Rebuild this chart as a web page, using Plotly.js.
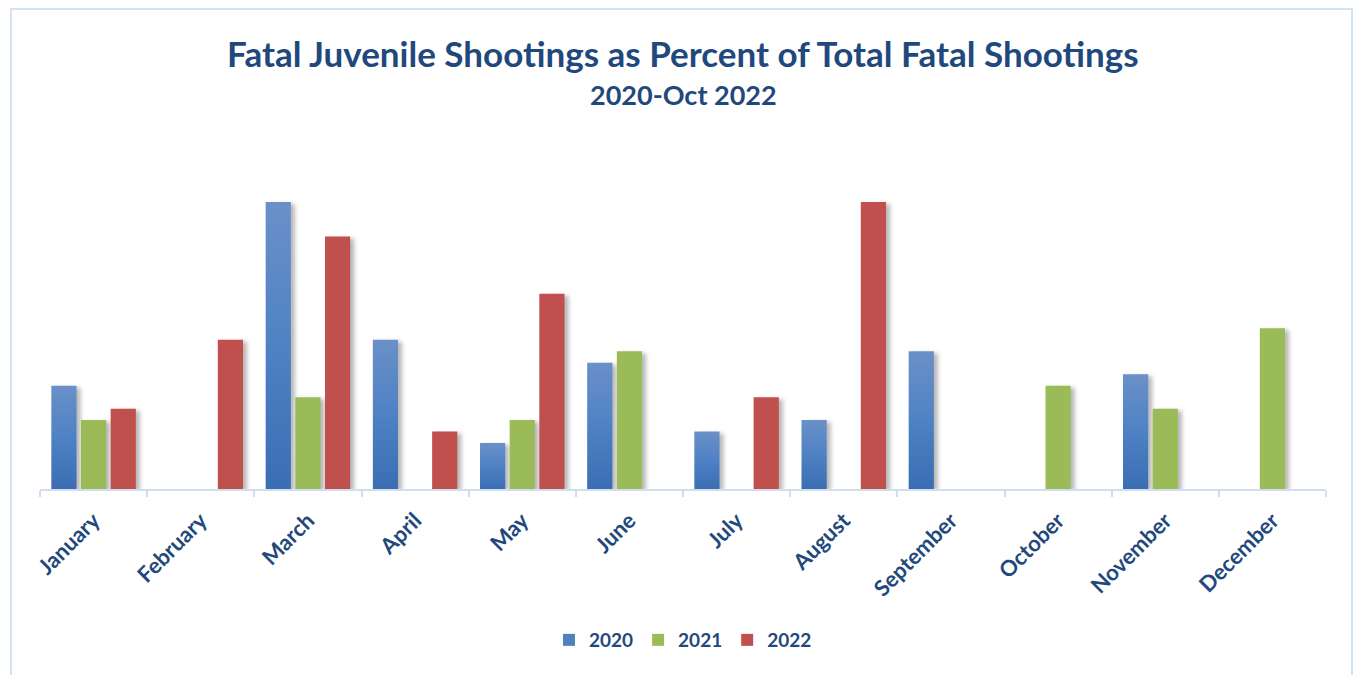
<!DOCTYPE html>
<html>
<head>
<meta charset="utf-8">
<script src="https://cdn.plot.ly/plotly-3.0.1.min.js"></script>
<style>
html,body{margin:0;padding:0;background:#fff;}
#wrap{position:relative;width:1358px;height:675px;}
#chart{position:absolute;left:0;top:0;width:1358px;height:675px;}
#frame{position:absolute;left:10px;top:8px;width:1343px;height:700px;border:2px solid #d5e2f2;box-sizing:border-box;pointer-events:none;}
</style>
</head>
<body>
<div id="wrap"><div id="chart"></div><div id="frame"></div></div>
<script>
const months = ["January","February","March","April","May","June","July","August","September","October","November","December"];
const y2020 = [9, null, 25, 13, 4, 11, 5, 6, 12, null, 10, null];
const y2021 = [6, null, 8, null, 6, 12, null, null, null, 9, 7, 14];
const y2022 = [7, 13, 22, 5, 17, null, 8, 25, null, null, null, null];
const seriesNames = ["2020","2021","2022"];

const colors = ["#4f81bd","#9bbb59","#c0504d"];
const textColor = "#1f497d";
const font = "Lato, 'Open Sans', sans-serif";

const data = [y2020, y2021, y2022].map((vals, i) => ({
  type: "bar",
  name: seriesNames[i],
  x: months,
  y: vals,
  marker: {color: colors[i], line: {width: 0}},
  hoverinfo: "x+y+name"
}));

const plotTop = 130, plotBottom = 489;
const ph = plotBottom - plotTop;
const yPaper = px => (plotBottom - px) / ph;

const layout = {
  width: 1358, height: 675,
  paper_bgcolor: "rgba(0,0,0,0)",
  plot_bgcolor: "rgba(0,0,0,0)",
  margin: {l: 40, r: 32, t: plotTop, b: 675 - plotBottom},
  barmode: "group",
  bargap: 0.17,
  bargroupgap: 0.15,
  showlegend: true,
  legend: {
    orientation: "h", x: 0.5, xanchor: "center",
    y: yPaper(640), yanchor: "middle",
    font: {family: font, size: 19, color: textColor, weight: "bold"},
    traceorder: "normal"
  },
  xaxis: {
    type: "category",
    tickson: "boundaries",
    ticks: "outside", ticklen: 6, tickcolor: "#d0def0", tickwidth: 2,
    showline: true, linecolor: "#d0def0", linewidth: 2,
    showgrid: false, zeroline: false,
    tickangle: -45,
    ticklabelstandoff: 8,
    tickfont: {family: font, size: 22, color: textColor, weight: "bold"}
  },
  yaxis: {
    range: [0, 31.27],
    visible: false, showgrid: false, zeroline: false
  },
  annotations: [
    {text: "Fatal Juvenile Shootings as Percent of Total Fatal Shootings", xref: "paper", yref: "paper",
     x: 0.5, y: yPaper(53), xanchor: "center", yanchor: "middle", showarrow: false,
     font: {family: font, size: 35, color: textColor, weight: "bold"}},
    {text: "2020-Oct 2022", xref: "paper", yref: "paper",
     x: 0.5, y: yPaper(95), xanchor: "center", yanchor: "middle", showarrow: false,
     font: {family: font, size: 27, color: textColor, weight: "bold"}}
  ]
};

Plotly.newPlot("chart", data, layout, {displayModeBar: false}).then(gd => {
  const svg = gd.querySelector("svg.main-svg");
  const ns = "http://www.w3.org/2000/svg";
  let defs = svg.querySelector("defs");
  const grad = document.createElementNS(ns, "linearGradient");
  grad.setAttribute("id", "blueGrad");
  grad.setAttribute("x1", "0"); grad.setAttribute("y1", "0");
  grad.setAttribute("x2", "0"); grad.setAttribute("y2", "1");
  [["0", "#6a90c8"], ["0.5", "#4f82c4"], ["1", "#3a6db2"]].forEach(([o, c]) => {
    const s = document.createElementNS(ns, "stop");
    s.setAttribute("offset", o); s.setAttribute("stop-color", c);
    grad.appendChild(s);
  });
  defs.appendChild(grad);
  const traces = gd.querySelectorAll(".barlayer .trace");
  traces.forEach((t, i) => {
    t.style.filter = "drop-shadow(4px 2px 2px rgba(0,0,0,0.28))";
    if (i === 0) t.querySelectorAll("path").forEach(p => { p.style.fill = "url(#blueGrad)"; });
  });
});
</script>
</body>
</html>
